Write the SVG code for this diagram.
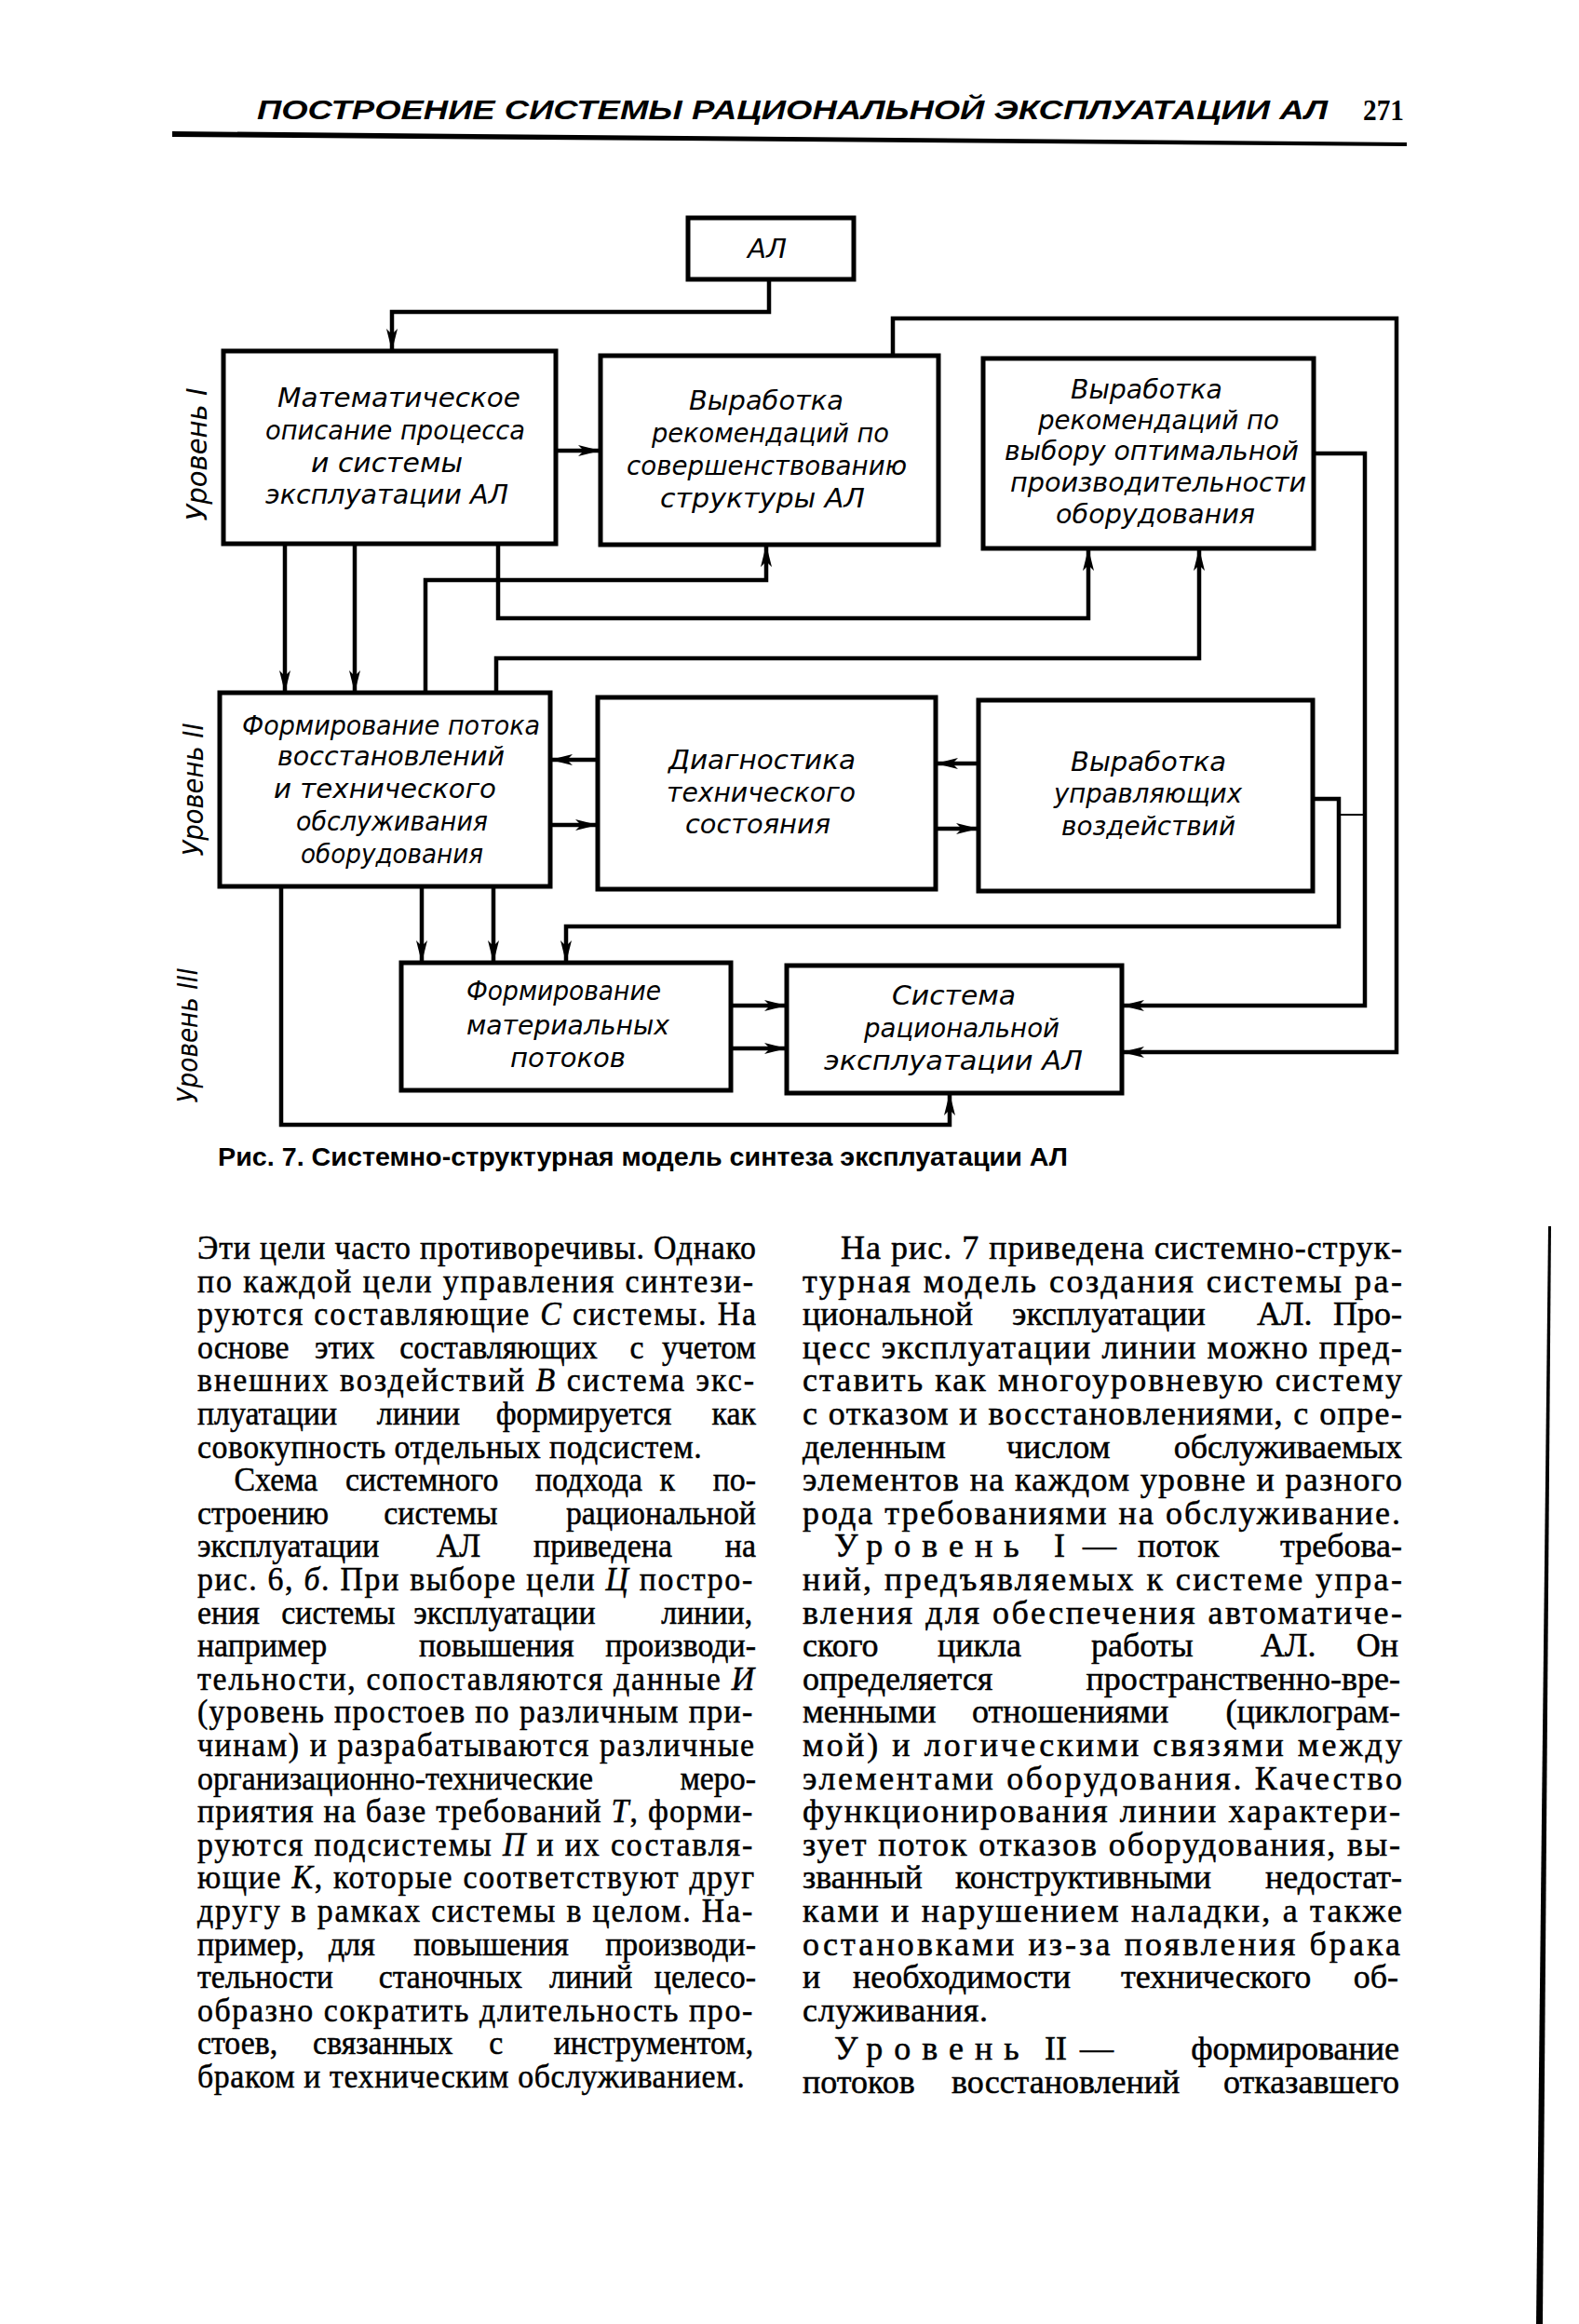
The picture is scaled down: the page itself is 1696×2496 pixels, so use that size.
<svg xmlns="http://www.w3.org/2000/svg" width="1696" height="2496" viewBox="0 0 1696 2496">
<defs>
<marker id="ar" markerUnits="userSpaceOnUse" markerWidth="26" markerHeight="14" refX="24" refY="6" orient="auto">
<path d="M0,0 L24,6 L0,12 L6,6 z" fill="#000"/>
</marker>
<style>
.box{fill:none;stroke:#000;stroke-width:5}
.c path{fill:none;stroke:#000;stroke-width:4.5}
.c path.a{marker-end:url(#ar)}
.c path.t{stroke-width:2}
.d{font-family:"DejaVu Sans Condensed","DejaVu Sans","Liberation Sans",sans-serif;font-style:italic;font-size:28px;fill:#000}
.lv{font-family:"DejaVu Sans Condensed","DejaVu Sans","Liberation Sans",sans-serif;font-style:italic;font-size:30px;fill:#000}
.b{font-family:"Liberation Serif","DejaVu Serif",serif;font-size:36px;fill:#000;stroke:#000;stroke-width:0.5}
.i{font-style:italic}
.e{text-anchor:end}
.hd{font-family:"Liberation Sans","DejaVu Sans",sans-serif;font-style:italic;font-weight:bold;font-size:29px;fill:#000}
.num{font-family:"Liberation Serif","DejaVu Serif",serif;font-weight:bold;font-size:32px;fill:#000}
.cap{font-family:"Liberation Sans","DejaVu Sans",sans-serif;font-weight:bold;font-size:27px;fill:#000}
</style>
</defs>
<rect width="1696" height="2496" fill="#fff"/>

<g id="header">
<text class="hd" x="276" y="128" textLength="1150" lengthAdjust="spacingAndGlyphs">ПОСТРОЕНИЕ СИСТЕМЫ РАЦИОНАЛЬНОЙ ЭКСПЛУАТАЦИИ АЛ</text>
<text class="num" x="1464" y="129" textLength="44" lengthAdjust="spacingAndGlyphs">271</text>
<polygon points="185,141 1511,153 1511,157 185,147" fill="#000"/>
</g>

<g id="levels">
<text class="lv" transform="translate(222,488) rotate(-90)" text-anchor="middle" textLength="143" lengthAdjust="spacingAndGlyphs">Уровень I</text>
<text class="lv" transform="translate(218,848) rotate(-90)" text-anchor="middle" textLength="143" lengthAdjust="spacingAndGlyphs">Уровень II</text>
<text class="lv" transform="translate(212,1112) rotate(-90)" text-anchor="middle" textLength="145" lengthAdjust="spacingAndGlyphs">Уровень III</text>
</g>

<g id="connectors" class="c">
<path class="a" d="M826,300 V335 H421 V377"/>
<path class="a" d="M597,484 H645"/>
<path class="a" d="M959,383 V342 H1500 V1130 H1205"/>
<path class="a" d="M1411,487 H1466 V1080 H1205"/>
<path class="a" d="M306,584 V744"/>
<path class="a" d="M381,584 V744"/>
<path class="a" d="M535,584 V664 H1169 V589"/>
<path class="a" d="M457,744 V623 H823 V585"/>
<path class="a" d="M533,744 V707 H1288 V589"/>
<path class="a" d="M642,816 H591"/>
<path class="a" d="M591,886 H642"/>
<path class="a" d="M1051,820 H1005"/>
<path class="a" d="M1005,890 H1051"/>
<path class="a" d="M1410,858 H1438 V995 H608 V1034"/>
<path class="t" d="M1438,875 H1466"/>
<path class="a" d="M453,952 V1034"/>
<path class="a" d="M530,952 V1034"/>
<path class="a" d="M302,952 V1208 H1020 V1174"/>
<path class="a" d="M785,1080 H845"/>
<path class="a" d="M785,1126 H845"/>
</g>

<g id="node-al">
<rect class="box" x="739" y="234" width="178" height="66"/>
<text class="d" x="803" y="277" textLength="42" lengthAdjust="spacingAndGlyphs">АЛ</text>
</g>

<g id="node-math">
<rect class="box" x="240" y="377" width="357" height="207"/>
<text class="d" x="298" y="437" textLength="261" lengthAdjust="spacingAndGlyphs">Математическое</text>
<text class="d" x="285" y="472" textLength="279" lengthAdjust="spacingAndGlyphs">описание процесса</text>
<text class="d" x="334" y="507" textLength="163" lengthAdjust="spacingAndGlyphs">и системы</text>
<text class="d" x="285" y="541" textLength="261" lengthAdjust="spacingAndGlyphs">эксплуатации АЛ</text>
</g>

<g id="node-structure">
<rect class="box" x="645" y="382" width="363" height="203"/>
<text class="d" x="740" y="440" textLength="166" lengthAdjust="spacingAndGlyphs">Выработка</text>
<text class="d" x="700" y="475" textLength="255" lengthAdjust="spacingAndGlyphs">рекомендаций по</text>
<text class="d" x="673" y="510" textLength="301" lengthAdjust="spacingAndGlyphs">совершенствованию</text>
<text class="d" x="709" y="545" textLength="220" lengthAdjust="spacingAndGlyphs">структуры АЛ</text>
</g>

<g id="node-productivity">
<rect class="box" x="1056" y="385" width="355" height="204"/>
<text class="d" x="1150" y="428" textLength="163" lengthAdjust="spacingAndGlyphs">Выработка</text>
<text class="d" x="1115" y="461" textLength="259" lengthAdjust="spacingAndGlyphs">рекомендаций по</text>
<text class="d" x="1079" y="494" textLength="316" lengthAdjust="spacingAndGlyphs">выбору оптимальной</text>
<text class="d" x="1085" y="528" textLength="318" lengthAdjust="spacingAndGlyphs">производительности</text>
<text class="d" x="1134" y="562" textLength="214" lengthAdjust="spacingAndGlyphs">оборудования</text>
</g>

<g id="node-restore">
<rect class="box" x="236" y="744" width="355" height="208"/>
<text class="d" x="260" y="789" textLength="320" lengthAdjust="spacingAndGlyphs">Формирование потока</text>
<text class="d" x="298" y="822" textLength="244" lengthAdjust="spacingAndGlyphs">восстановлений</text>
<text class="d" x="294" y="857" textLength="239" lengthAdjust="spacingAndGlyphs">и технического</text>
<text class="d" x="318" y="892" textLength="206" lengthAdjust="spacingAndGlyphs">обслуживания</text>
<text class="d" x="323" y="927" textLength="196" lengthAdjust="spacingAndGlyphs">оборудования</text>
</g>

<g id="node-diagnostics">
<rect class="box" x="642" y="749" width="363" height="206"/>
<text class="d" x="718" y="826" textLength="201" lengthAdjust="spacingAndGlyphs">Диагностика</text>
<text class="d" x="716" y="861" textLength="203" lengthAdjust="spacingAndGlyphs">технического</text>
<text class="d" x="736" y="895" textLength="156" lengthAdjust="spacingAndGlyphs">состояния</text>
</g>

<g id="node-control">
<rect class="box" x="1051" y="752" width="359" height="205"/>
<text class="d" x="1150" y="828" textLength="167" lengthAdjust="spacingAndGlyphs">Выработка</text>
<text class="d" x="1132" y="862" textLength="202" lengthAdjust="spacingAndGlyphs">управляющих</text>
<text class="d" x="1140" y="897" textLength="187" lengthAdjust="spacingAndGlyphs">воздействий</text>
</g>

<g id="node-material">
<rect class="box" x="431" y="1034" width="354" height="137"/>
<text class="d" x="501" y="1074" textLength="209" lengthAdjust="spacingAndGlyphs">Формирование</text>
<text class="d" x="501" y="1111" textLength="218" lengthAdjust="spacingAndGlyphs">материальных</text>
<text class="d" x="548" y="1146" textLength="124" lengthAdjust="spacingAndGlyphs">потоков</text>
</g>

<g id="node-system">
<rect class="box" x="845" y="1037" width="360" height="137"/>
<text class="d" x="958" y="1079" textLength="133" lengthAdjust="spacingAndGlyphs">Система</text>
<text class="d" x="928" y="1114" textLength="210" lengthAdjust="spacingAndGlyphs">рациональной</text>
<text class="d" x="885" y="1149" textLength="278" lengthAdjust="spacingAndGlyphs">эксплуатации АЛ</text>
</g>

<g id="caption">
<text class="cap" x="234" y="1252" textLength="913" lengthAdjust="spacingAndGlyphs">Рис. 7. Системно-структурная модель синтеза эксплуатации АЛ</text>
</g>

<g id="left-column" class="b" transform="matrix(0.9404 0 0 1 54 0)">
<text x="168" y="1352" textLength="638" lengthAdjust="spacing">Эти цели часто противоречивы. Однако</text>
<text x="168" y="1388" textLength="635" lengthAdjust="spacing">по каждой цели управления синтези-</text>
<text x="168" y="1423" textLength="638" lengthAdjust="spacing">руются составляющие <tspan class="i">С</tspan> системы. На</text>
<text y="1459"><tspan x="168">основе</tspan><tspan x="302">этих</tspan><tspan x="399">составляющих</tspan><tspan x="662">с</tspan></text>
<text class="e" x="806" y="1459">учетом</text>
<text x="168" y="1494" textLength="636" lengthAdjust="spacing">внешних воздействий <tspan class="i">В</tspan> система экс-</text>
<text y="1530"><tspan x="168">плуатации</tspan><tspan x="373">линии</tspan><tspan x="509">формируется</tspan></text>
<text class="e" x="806" y="1530">как</text>
<text x="168" y="1566" textLength="576" lengthAdjust="spacing">совокупность отдельных подсистем.</text>
<text y="1601"><tspan x="210">Схема</tspan><tspan x="337">системного</tspan><tspan x="554">подхода</tspan><tspan x="696">к</tspan></text>
<text class="e" x="806" y="1601">по-</text>
<text y="1637"><tspan x="168">строению</tspan><tspan x="381">системы</tspan></text>
<text class="e" x="806" y="1637">рациональной</text>
<text y="1672"><tspan x="168">эксплуатации</tspan><tspan x="441">АЛ</tspan><tspan x="552">приведена</tspan></text>
<text class="e" x="806" y="1672">на</text>
<text x="168" y="1708" textLength="634" lengthAdjust="spacing">рис. 6, <tspan class="i">б</tspan>. При выборе цели <tspan class="i">Ц</tspan> постро-</text>
<text y="1744"><tspan x="168">ения</tspan><tspan x="264">системы</tspan><tspan x="415">эксплуатации</tspan></text>
<text class="e" x="802" y="1744">линии,</text>
<text y="1779"><tspan x="168">например</tspan><tspan x="421">повышения</tspan></text>
<text class="e" x="806" y="1779">производи-</text>
<text x="168" y="1815" textLength="636" lengthAdjust="spacing">тельности, сопоставляются данные <tspan class="i">И</tspan></text>
<text x="168" y="1850" textLength="634" lengthAdjust="spacing">(уровень простоев по различным при-</text>
<text x="168" y="1886" textLength="636" lengthAdjust="spacing">чинам) и разрабатываются различные</text>
<text x="168" y="1922">организационно-технические</text>
<text class="e" x="806" y="1922">меро-</text>
<text x="168" y="1957" textLength="634" lengthAdjust="spacing">приятия на базе требований <tspan class="i">Т</tspan>, форми-</text>
<text x="168" y="1993" textLength="634" lengthAdjust="spacing">руются подсистемы <tspan class="i">П</tspan> и их составля-</text>
<text x="168" y="2028" textLength="636" lengthAdjust="spacing">ющие <tspan class="i">К</tspan>, которые соответствуют друг</text>
<text x="168" y="2064" textLength="634" lengthAdjust="spacing">другу в рамках системы в целом. На-</text>
<text y="2100"><tspan x="168">пример,</tspan><tspan x="318">для</tspan><tspan x="415">повышения</tspan></text>
<text class="e" x="806" y="2100">производи-</text>
<text y="2135"><tspan x="168">тельности</tspan><tspan x="375">станочных</tspan><tspan x="570">линий</tspan></text>
<text class="e" x="806" y="2135">целесо-</text>
<text x="168" y="2171" textLength="634" lengthAdjust="spacing">образно сократить длительность про-</text>
<text y="2206"><tspan x="168">стоев,</tspan><tspan x="300">связанных</tspan><tspan x="501">с</tspan></text>
<text class="e" x="803" y="2206">инструментом,</text>
<text x="168" y="2242" textLength="625" lengthAdjust="spacing">браком и техническим обслуживанием.</text>
</g>

<g id="right-column" class="b">
<text x="903" y="1352" textLength="603" lengthAdjust="spacing">На рис. 7 приведена системно-струк-</text>
<text x="862" y="1388" textLength="644" lengthAdjust="spacing">турная модель создания системы ра-</text>
<text y="1423"><tspan x="862">циональной</tspan><tspan x="1087">эксплуатации</tspan><tspan x="1350">АЛ.</tspan></text>
<text class="e" x="1506" y="1423">Про-</text>
<text x="862" y="1459" textLength="644" lengthAdjust="spacing">цесс эксплуатации линии можно пред-</text>
<text x="862" y="1494" textLength="644" lengthAdjust="spacing">ставить как многоуровневую систему</text>
<text x="862" y="1530" textLength="644" lengthAdjust="spacing">с отказом и восстановлениями, с опре-</text>
<text y="1566"><tspan x="862">деленным</tspan><tspan x="1081">числом</tspan></text>
<text class="e" x="1506" y="1566">обслуживаемых</text>
<text x="862" y="1601" textLength="644" lengthAdjust="spacing">элементов на каждом уровне и разного</text>
<text x="862" y="1637" textLength="642" lengthAdjust="spacing">рода требованиями на обслуживание.</text>
<text y="1672"><tspan x="896" letter-spacing="12">Уровень</tspan><tspan x="1132">I</tspan><tspan x="1163">—</tspan><tspan x="1222">поток</tspan></text>
<text class="e" x="1506" y="1672">требова-</text>
<text x="862" y="1708" textLength="644" lengthAdjust="spacing">ний, предъявляемых к системе упра-</text>
<text x="862" y="1744" textLength="644" lengthAdjust="spacing">вления для обеспечения автоматиче-</text>
<text y="1779"><tspan x="862">ского</tspan><tspan x="1007">цикла</tspan><tspan x="1172">работы</tspan><tspan x="1354">АЛ.</tspan></text>
<text class="e" x="1502" y="1779">Он</text>
<text x="862" y="1815">определяется</text>
<text class="e" x="1504" y="1815">пространственно-вре-</text>
<text y="1850"><tspan x="862">менными</tspan><tspan x="1044">отношениями</tspan></text>
<text class="e" x="1504" y="1850">(циклограм-</text>
<text x="862" y="1886" textLength="644" lengthAdjust="spacing">мой) и логическими связями между</text>
<text x="862" y="1922" textLength="644" lengthAdjust="spacing">элементами оборудования. Качество</text>
<text x="862" y="1957" textLength="642" lengthAdjust="spacing">функционирования линии характери-</text>
<text x="862" y="1993" textLength="642" lengthAdjust="spacing">зует поток отказов оборудования, вы-</text>
<text y="2028"><tspan x="862">званный</tspan><tspan x="1026">конструктивными</tspan></text>
<text class="e" x="1506" y="2028">недостат-</text>
<text x="862" y="2064" textLength="644" lengthAdjust="spacing">ками и нарушением наладки, а также</text>
<text x="862" y="2100" textLength="642" lengthAdjust="spacing">остановками из-за появления брака</text>
<text y="2135"><tspan x="862">и</tspan><tspan x="916">необходимости</tspan><tspan x="1204">технического</tspan></text>
<text class="e" x="1502" y="2135">об-</text>
<text x="862" y="2171" textLength="199" lengthAdjust="spacing">служивания.</text>
<text y="2212"><tspan x="896" letter-spacing="12">Уровень</tspan><tspan x="1122">II</tspan><tspan x="1160">—</tspan></text>
<text class="e" x="1503" y="2212">формирование</text>
<text y="2248"><tspan x="862">потоков</tspan><tspan x="1022">восстановлений</tspan></text>
<text class="e" x="1503" y="2248">отказавшего</text>
</g>

<polygon id="page-edge" points="1663,1317 1666,1317 1657,2496 1650,2496" fill="#000"/>
</svg>
